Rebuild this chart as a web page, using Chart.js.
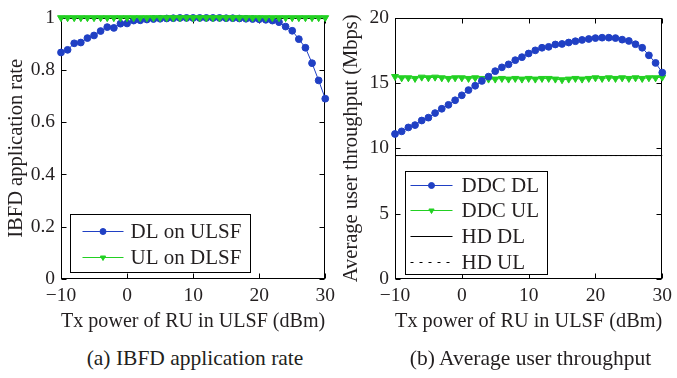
<!DOCTYPE html>
<html>
<head>
<meta charset="utf-8">
<script src="https://cdn.jsdelivr.net/npm/chart.js@4.4.1/dist/chart.umd.min.js"></script>
<style>
  body { margin: 0; background: #fff; width: 677px; height: 378px; position: relative; overflow: hidden; font-family: "Liberation Serif", serif; color: #231f20; }
  canvas { position: absolute; top: 0; }
  #c1 { left: 0; }
  #c2 { left: 335px; }
  .cap { position: absolute; top: 346px; font-size: 21.5px; text-align: center; white-space: nowrap; }
</style>
</head>
<body>
<canvas id="c1" width="340" height="338"></canvas>
<canvas id="c2" width="342" height="338"></canvas>
<div class="cap" style="left:61px;width:268px">(a) IBFD application rate</div>
<div class="cap" style="left:395px;width:271px">(b) Average user throughput</div>
<script>
// Tx power of RU in ULSF (dBm)
const txPower = [-10, -9, -8, -7, -6, -5, -4, -3, -2, -1, 0, 1, 2, 3, 4, 5, 6, 7, 8, 9, 10,
  11, 12, 13, 14, 15, 16, 17, 18, 19, 20, 21, 22, 23, 24, 25, 26, 27, 28, 29, 30];

// (a) IBFD application rate
const dlOnUlsf = [0.867, 0.877, 0.902, 0.905, 0.922, 0.932, 0.949, 0.964, 0.961, 0.977, 0.978,
  0.989, 0.990, 0.993, 0.995, 0.996, 0.997, 0.998, 0.999, 0.999, 0.999,
  0.999, 0.999, 0.999, 0.999, 0.998, 0.998, 0.997, 0.996, 0.995, 0.994,
  0.992, 0.989, 0.983, 0.966, 0.950, 0.918, 0.885, 0.826, 0.760, 0.690];
const ulOnDlsf = [1, 1, 1, 1, 1, 1, 1, 1, 1, 1, 1, 1, 1, 1, 1, 1, 1, 1, 1, 1, 1,
  1, 1, 1, 1, 1, 1, 1, 1, 1, 1, 1, 1, 1, 1, 1, 1, 1, 1, 1, 1];

// (b) Average user throughput (Mbps)
const ddcDl = [11.1, 11.3, 11.6, 11.78, 12.13, 12.35, 12.7, 13.03, 13.33, 13.68, 14.06,
  14.46, 14.79, 15.16, 15.49, 15.91, 16.2, 16.43, 16.75, 16.98, 17.26,
  17.5, 17.7, 17.77, 17.95, 17.99, 18.1, 18.2, 18.3, 18.37, 18.44,
  18.47, 18.47, 18.44, 18.32, 18.22, 17.97, 17.7, 17.12, 16.54, 15.8];
const ddcUl = [15.5, 15.4, 15.4, 15.35, 15.45, 15.4, 15.45, 15.4, 15.35, 15.4, 15.4,
  15.35, 15.4, 15.35, 15.3, 15.3, 15.35, 15.3, 15.35, 15.3, 15.35,
  15.3, 15.35, 15.35, 15.3, 15.25, 15.3, 15.35, 15.3, 15.35, 15.4,
  15.35, 15.4, 15.35, 15.4, 15.35, 15.4, 15.35, 15.4, 15.4, 15.45];
const hdX = [-10, 30];
const hdDl = [9.45, 9.45];
const hdUl = [9.45, 9.45];

const BLUE = '#2040c4';
const GREEN = '#22d022';
const INK = '#231f20';
const FONT = 'Liberation Serif';

const pts = (xs, ys) => xs.map((x, i) => ({ x: x, y: ys[i] }));

// box + inward tick marks on all four sides, like the original figure
const framePlugin = {
  id: 'frame',
  beforeDatasetsDraw(chart) {
    const { ctx, chartArea: a, scales } = chart;
    const L = Math.round(a.left) + 0.5, R = Math.round(a.right) - 0.5;
    const T = Math.round(a.top) + 0.5, B = Math.round(a.bottom) - 0.5;
    ctx.save();
    ctx.strokeStyle = '#000';
    ctx.lineWidth = 1;
    ctx.strokeRect(L, T, R - L, B - T);
    ctx.beginPath();
    scales.x.ticks.forEach(t => {
      const px = Math.round(scales.x.getPixelForValue(t.value)) + 0.5;
      ctx.moveTo(px, B); ctx.lineTo(px, B - 5);
      ctx.moveTo(px, T); ctx.lineTo(px, T + 5);
    });
    scales.y.ticks.forEach(t => {
      const py = Math.round(scales.y.getPixelForValue(t.value)) + 0.5;
      ctx.moveTo(L, py); ctx.lineTo(L + 5, py);
      ctx.moveTo(R, py); ctx.lineTo(R - 5, py);
    });
    ctx.stroke();
    ctx.restore();
  }
};

// matlab style legend box in the lower left corner of the plot
const boxLegend = {
  id: 'boxLegend',
  afterDraw(chart) {
    const o = chart.options.plugins.boxLegend;
    const { ctx, chartArea: a } = chart;
    const sets = chart.data.datasets;
    ctx.save();
    ctx.font = '21px "' + FONT + '"';
    const tw = Math.max(...sets.map(d => ctx.measureText(d.label).width));
    const w = o.padL + o.line + o.gap + tw + o.padR;
    const h = o.padT * 2 + o.row * (sets.length - 1);
    const x0 = Math.round(a.left + o.dx) + 0.5;
    const y0 = Math.round(a.bottom - o.dy - h) + 0.5;
    ctx.fillStyle = '#fff';
    ctx.fillRect(x0, y0, w, h);
    ctx.strokeStyle = '#000';
    ctx.lineWidth = 1;
    ctx.strokeRect(x0, y0, Math.round(w), Math.round(h));
    sets.forEach((d, i) => {
      const cy = Math.round(y0 + o.padT + i * o.row) + 0.5;
      const lx = x0 + o.padL;
      ctx.strokeStyle = d.borderColor;
      ctx.fillStyle = d.borderColor;
      ctx.lineWidth = 1;
      ctx.setLineDash(d.legendDash || d.borderDash || []);
      ctx.beginPath();
      ctx.moveTo(lx, cy); ctx.lineTo(lx + o.line, cy);
      ctx.stroke();
      ctx.setLineDash([]);
      if (d.pointRadius > 0) {
        Chart.helpers.drawPoint(ctx, {
          pointStyle: d.pointStyle, radius: 3, rotation: d.rotation || 0, borderWidth: 1
        }, lx + o.line / 2, cy);
      }
      ctx.fillStyle = INK;
      ctx.textBaseline = 'middle';
      ctx.textAlign = 'left';
      ctx.fillText(d.label, lx + o.line + o.gap, cy + 1);
    });
    ctx.restore();
  }
};

function pointStyleColors(ds) {
  ds.pointBackgroundColor = ds.borderColor;
  ds.pointBorderColor = ds.borderColor;
  return ds;
}

function axes(yMin, yMax, yStep, yTitle, yWidth, yFmt) {
  return {
    x: {
      type: 'linear', min: -10, max: 30,
      ticks: { stepSize: 10, padding: 5, color: INK, font: { family: FONT, size: 19.5 },
        callback: v => String(v).replace('-', '\u2212') },
      grid: { display: false, drawTicks: false },
      border: { display: false },
      title: { display: true, text: 'Tx power of RU in ULSF (dBm)', color: INK, font: { family: FONT, size: 20.5 }, padding: 4 },
      afterFit: s => { s.height = 59; }
    },
    y: {
      min: yMin, max: yMax,
      ticks: { stepSize: yStep, padding: 6, color: INK, font: { family: FONT, size: 19.5 }, callback: yFmt },
      grid: { display: false, drawTicks: false },
      border: { display: false },
      title: { display: true, text: yTitle, color: INK, font: { family: FONT, size: 20.5 }, padding: 4 },
      afterFit: s => { s.width = yWidth; }
    }
  };
}

const common = {
  responsive: false,
  animation: false,
  layout: { padding: { top: 13, right: 11, left: 0, bottom: 0 } },
  elements: { line: { borderWidth: 1, tension: 0 } },
  datasets: { line: { clip: false } }
};

new Chart(document.getElementById('c1'), {
  type: 'line',
  data: {
    datasets: [
      pointStyleColors({ label: 'DL on ULSF', data: pts(txPower, dlOnUlsf), borderColor: BLUE,
        pointStyle: 'circle', pointRadius: 3.4, order: 1 }),
      pointStyleColors({ label: 'UL on DLSF', data: pts(txPower, ulOnDlsf), borderColor: GREEN,
        pointStyle: 'triangle', pointRadius: 4, rotation: 180, order: 0 })
    ]
  },
  options: Object.assign({}, common, {
    scales: axes(0, 1, 0.2, 'IBFD application rate', 61, v => String(Math.round(v * 10) / 10)),
    plugins: {
      legend: { display: false },
      tooltip: { enabled: false },
      boxLegend: { dx: 9, dy: 7, padL: 12, line: 41, gap: 7, padR: 9, padT: 16, row: 26 }
    }
  }),
  plugins: [framePlugin, boxLegend]
});

new Chart(document.getElementById('c2'), {
  type: 'line',
  data: {
    datasets: [
      pointStyleColors({ label: 'DDC DL', data: pts(txPower, ddcDl), borderColor: BLUE,
        pointStyle: 'circle', pointRadius: 3.4 }),
      pointStyleColors({ label: 'DDC UL', data: pts(txPower, ddcUl), borderColor: GREEN,
        pointStyle: 'triangle', pointRadius: 4, rotation: 180 }),
      { label: 'HD DL', data: pts(hdX, hdDl), borderColor: '#000', pointRadius: 0 },
      { label: 'HD UL', data: pts(hdX, hdUl), borderColor: '#000', borderDash: [2, 3], legendDash: [3, 6], pointRadius: 0 }
    ]
  },
  options: Object.assign({}, common, {
    scales: axes(0, 20, 5, 'Average user throughput (Mbps)', 60, v => String(v)),
    plugins: {
      legend: { display: false },
      tooltip: { enabled: false },
      boxLegend: { dx: 10, dy: 5, padL: 5, line: 42, gap: 9, padR: 8, padT: 13, row: 25.7 }
    }
  }),
  plugins: [framePlugin, boxLegend]
});
</script>
</body>
</html>
